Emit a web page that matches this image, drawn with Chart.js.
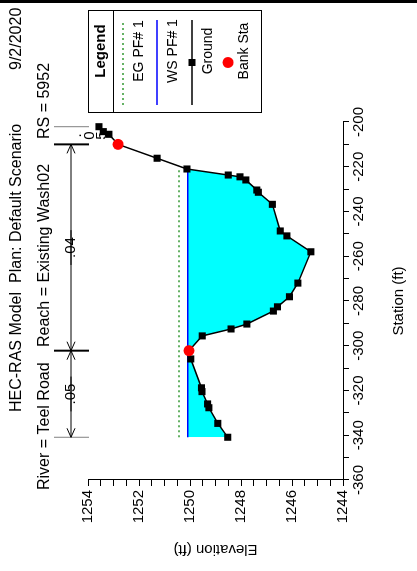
<!DOCTYPE html>
<html><head><meta charset="utf-8">
<script src="https://cdn.jsdelivr.net/npm/chart.js@4"></script>
<style>
html,body{margin:0;padding:0;background:#fff;overflow:hidden;width:417px;height:571px;}
#wrap{position:absolute;left:0;top:0;width:571px;height:417px;transform-origin:0 0;transform:translate(0,571px) rotate(-90deg);}
#edge{position:absolute;left:0;top:0;width:417px;height:3px;background:#000;}
canvas{display:block;}
</style></head><body>
<div id="wrap"><canvas id="c" width="571" height="417"></canvas></div>
<div id="edge"></div>
<script>
// ---- data ----
const groundStation = [-340.9, -334.7, -327.7, -326.0, -320.5, -318.8, -305.9, -302.2, -295.6, -292.5, -290.3, -284.5, -282.6, -278.1, -272.0, -258.0, -250.9, -248.7, -236.8, -231.4, -230.4, -225.9, -224.5, -223.7, -221.0, -216.2, -210.0, -205.5, -204.3, -202.1];
const groundElev    = [1248.52, 1248.91, 1249.26, 1249.31, 1249.53, 1249.55, 1249.97, 1250.04, 1249.52, 1248.39, 1247.77, 1246.73, 1246.57, 1246.10, 1245.77, 1245.26, 1246.20, 1246.46, 1246.77, 1247.32, 1247.38, 1247.81, 1248.04, 1248.50, 1250.12, 1251.29, 1252.82, 1253.18, 1253.40, 1253.57];
const bankStation = [-210.0, -302.2];
const bankElev    = [1252.82, 1250.04];
const wsStation = [-340.9, -220.9];
const wsElev    = [1250.09, 1250.09];
const egStation = [-340.9, -220.9];
const egElev    = [1250.43, 1250.43];
const nBreaks = [-202.1, -210.0, -302.2, -340.9];
const nValues = ['.05', '.04', '.05'];
const elevTicks = [1244, 1246, 1248, 1250, 1252, 1254];
const stationTicks = [-360, -340, -320, -300, -280, -260, -240, -220, -200];
const titleLine1 = ['HEC-RAS Model', 'Plan: Default Scenario', '9/2/2020'];
const titleLine2 = ['River = Teel Road', 'Reach = Existing Wash02', 'RS = 5952'];
const legendLabels = ['EG PF# 1', 'WS PF# 1', 'Ground', 'Bank Sta'];

const FONT = 'Liberation Sans, Arial, sans-serif';
const pts = (xs, ys) => xs.map((x, i) => ({x, y: ys[i]}));

const decor = {
  id: 'decor',
  afterDraw(chart) {
    const ctx = chart.ctx, xs = chart.scales.x;
    ctx.save();
    ctx.fillStyle = '#000';
    ctx.font = '16px ' + FONT;
    ctx.textBaseline = 'middle';
    ctx.textAlign = 'left';
    // title
    const t1u = [159, 288, 501], t2u = [81, 224, 432];
    titleLine1.forEach((s, i) => ctx.fillText(s, t1u[i], 17));
    titleLine2.forEach((s, i) => ctx.fillText(s, t2u[i], 45));
    ctx.font = '15px ' + FONT;
    // Manning n annotations
    const vLine = 71, v0 = 54, v1 = 89;
    const px = nBreaks.map(s => xs.getPixelForValue(s));
    px.forEach((u, i) => {
      const bank = (i === 1 || i === 2);
      ctx.strokeStyle = bank ? '#000' : '#808080';
      ctx.lineWidth = bank ? 2 : 1;
      ctx.beginPath(); ctx.moveTo(u, v0); ctx.lineTo(u, v1); ctx.stroke();
    });
    ctx.strokeStyle = '#000'; ctx.lineWidth = 1;
    for (let i = 0; i < nValues.length; i++) {
      const a = px[i], b = px[i + 1], mid = (a + b) / 2;
      const w = ctx.measureText(nValues[i]).width;
      if (Math.abs(b - a) < w + 20) {
        ctx.textAlign = 'center';
        [...nValues[i]].forEach((c, k) => ctx.fillText(c, mid, 77 + k * 12.5));
        continue;
      }
      ctx.textAlign = 'center';
      ctx.fillText(nValues[i], mid, vLine);
      const g = w / 2 + 7;
      ctx.beginPath();
      ctx.moveTo(a, vLine); ctx.lineTo(mid - g, vLine);
      ctx.moveTo(mid + g, vLine); ctx.lineTo(b, vLine);
      const d = Math.sign(b - a);
      ctx.moveTo(a + d * 9, vLine - 4); ctx.lineTo(a, vLine); ctx.lineTo(a + d * 9, vLine + 4);
      ctx.moveTo(b - d * 9, vLine - 4); ctx.lineTo(b, vLine); ctx.lineTo(b - d * 9, vLine + 4);
      ctx.stroke();
    }
    // legend
    const L = 458, R = 560, T = 88, B = 261, C = 520;
    ctx.lineWidth = 1; ctx.strokeStyle = '#000';
    ctx.strokeRect(L + 0.5, T + 0.5, R - L, B - T);
    ctx.beginPath(); ctx.moveTo(L, 113.5); ctx.lineTo(R, 113.5); ctx.stroke();
    ctx.textAlign = 'center';
    ctx.font = 'bold 15px ' + FONT;
    ctx.fillText('Legend', C, 101);
    ctx.font = '14px ' + FONT;
    const sym = [123, 157, 192, 228];
    const txt = [139, 173, 208, 244];
    const s0 = 466, s1 = 551, sm = (s0 + s1) / 2;
    ctx.strokeStyle = '#339933'; ctx.lineWidth = 1.5; ctx.setLineDash([2, 3]);
    ctx.beginPath(); ctx.moveTo(s0, sym[0]); ctx.lineTo(s1, sym[0]); ctx.stroke();
    ctx.setLineDash([]);
    ctx.strokeStyle = '#0000ff';
    ctx.beginPath(); ctx.moveTo(s0, sym[1]); ctx.lineTo(s1, sym[1]); ctx.stroke();
    ctx.strokeStyle = '#000';
    ctx.beginPath(); ctx.moveTo(s0, sym[2]); ctx.lineTo(s1, sym[2]); ctx.stroke();
    ctx.fillRect(sm - 3.5, sym[2] - 3.5, 7, 7);
    ctx.fillStyle = '#ff0000';
    ctx.beginPath(); ctx.arc(sm, sym[3], 5.5, 0, Math.PI * 2); ctx.fill();
    ctx.fillStyle = '#000';
    legendLabels.forEach((s, i) => ctx.fillText(s, C, txt[i]));
    ctx.restore();
  }
};

new Chart(document.getElementById('c'), {
  type: 'scatter',
  data: {
    datasets: [
      { label: 'Bank Sta', data: pts(bankStation, bankElev), showLine: false, pointStyle: 'circle',
        pointRadius: 5.5, backgroundColor: '#ff0000', borderColor: '#ff0000', pointBorderWidth: 0 },
      { label: 'Ground', data: pts(groundStation, groundElev), showLine: true, borderColor: '#000',
        borderWidth: 1.5, pointStyle: 'rect', pointRadius: 5, pointBackgroundColor: '#000',
        pointBorderColor: '#000', pointBorderWidth: 0, tension: 0 },
      { label: 'WS PF# 1', data: pts(wsStation, wsElev), showLine: true, borderColor: '#0000ff',
        borderWidth: 1.5, pointRadius: 0, fill: { target: 1, above: '#00ffff', below: 'rgba(0,0,0,0)' } },
      { label: 'EG PF# 1', data: pts(egStation, egElev), showLine: true, borderColor: '#339933',
        borderWidth: 1.5, borderDash: [2, 3], pointRadius: 0 }
    ]
  },
  options: {
    animation: false, responsive: false, devicePixelRatio: 1,
    layout: { padding: { top: 88, right: 122, bottom: 0, left: 0 } },
    plugins: { legend: { display: false }, tooltip: { enabled: false }, title: { display: false } },
    scales: {
      x: {
        type: 'linear', min: stationTicks[0], max: stationTicks[stationTicks.length - 1],
        afterFit(s) { s.height = 74; },
        ticks: { stepSize: 10, autoSkip: false, maxRotation: 0, minRotation: 0, padding: 1, color: '#000',
          font: { family: FONT, size: 15 }, callback: v => stationTicks.includes(v) ? String(v) : '' },
        grid: { drawOnChartArea: false, drawTicks: true, tickLength: 6, color: '#000' },
        border: { display: true, color: '#000', width: 1 },
        title: { display: true, text: 'Station (ft)', color: '#000', font: { family: FONT, size: 15 }, padding: { top: 0, bottom: 9 } }
      },
      y: {
        type: 'linear', min: elevTicks[0], max: elevTicks[elevTicks.length - 1],
        afterFit(s) { s.width = 91; },
        ticks: { stepSize: 0.5, autoSkip: false, padding: 4, color: '#000',
          font: { family: FONT, size: 15 }, callback: v => elevTicks.includes(v) ? String(v) : '' },
        grid: { drawOnChartArea: false, drawTicks: true, tickLength: 6, color: '#000' },
        border: { display: true, color: '#000', width: 1 },
        title: { display: true, text: 'Elevation (ft)', color: '#000', font: { family: FONT, size: 15 }, padding: { top: 13, bottom: 0 } }
      }
    }
  },
  plugins: [decor]
});
</script>
</body></html>
